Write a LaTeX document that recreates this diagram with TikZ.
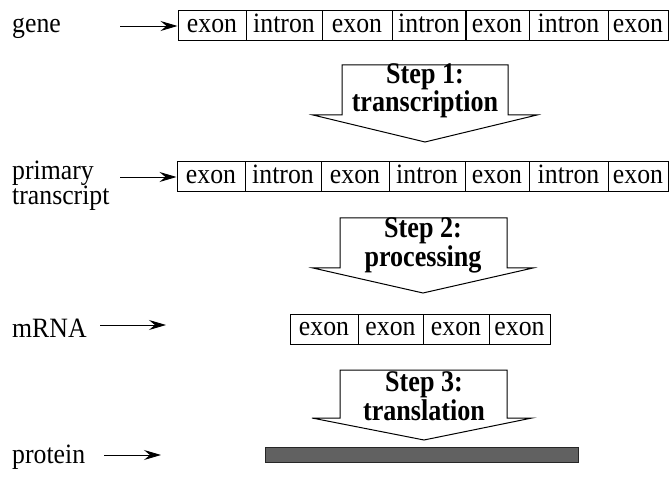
\documentclass[tikz,border=0pt]{standalone}
\usepackage{fontspec}
\setmainfont{Liberation Serif}[FakeStretch=0.92]
\newfontfamily\stepfont{Liberation Serif}[FakeStretch=0.87]
\usetikzlibrary{arrows.meta}
\tikzset{
  cell/.style={draw, line width=1pt, minimum height=30pt, inner sep=0pt, anchor=center,
    text height=19pt, text depth=6pt, font=\fontsize{28}{28}\selectfont},
  rowlabel/.style={anchor=base west, inner sep=0pt, align=left, font=\fontsize{28}{23}\selectfont},
  pointer/.style={line width=0.9pt, -{Stealth[length=17pt,width=10pt,inset=6pt]}},
  steparrow/.style={draw, line width=1pt, line join=miter},
  steptext/.style={anchor=base, inner sep=0pt, align=center, font=\stepfont\fontsize{30}{24}\selectfont\bfseries},
  proteinbar/.style={draw=black!85, line width=0.8pt, fill=black!62, minimum width=313pt, minimum height=15pt, inner sep=0pt}
}
\begin{document}
\begin{tikzpicture}[x=1pt,y=-1pt]
\useasboundingbox (0,0) rectangle (669,494);

% ---- row 1: gene
\node[rowlabel] (gene) at (12,33) {gene};
\node[cell, minimum width=68pt] (g1) at (212,26) {exon};
\node[cell, minimum width=76pt] (g2) at (284,26) {intron};
\node[cell, minimum width=70pt] (g3) at (357,26) {exon};
\node[cell, minimum width=74pt] (g4) at (429,26) {intron};
\node[cell, minimum width=64pt] (g5) at (497,26) {exon};
\node[cell, minimum width=79pt] (g6) at (568.5,26) {intron};
\node[cell, minimum width=60pt] (g7) at (638,26) {exon};
\coordinate (ga) at (120,26);
\draw[pointer] (ga) -- (g1.west);

% ---- step 1
\draw[steparrow] (342,115) -- (342,65) -- (508,65) -- (508,115) -- (537,115) -- (425,142) -- (313,115) -- cycle;
\node[steptext] (s1) at (425,112) {Step 1:\\transcription};

% ---- row 2: primary transcript
\node[rowlabel] (prim) at (12,205) {primary\\transcript};
\node[cell, minimum width=68pt] (p1) at (211,177) {exon};
\node[cell, minimum width=76pt] (p2) at (283,177) {intron};
\node[cell, minimum width=68pt] (p3) at (355,177) {exon};
\node[cell, minimum width=76pt] (p4) at (427,177) {intron};
\node[cell, minimum width=64pt] (p5) at (497,177) {exon};
\node[cell, minimum width=79pt] (p6) at (568.5,177) {intron};
\node[cell, minimum width=60pt] (p7) at (638,177) {exon};
\coordinate (pa) at (120,177);
\draw[pointer] (pa) -- (p1.west);

% ---- step 2
\draw[steparrow] (340,268) -- (340,218) -- (507,218) -- (507,268) -- (533,268) -- (423,293) -- (313,268) -- cycle;
\node[steptext] (s2) at (423,266) {Step 2:\\processing};

% ---- row 3: mRNA
\node[rowlabel] (mrna) at (12,337) {mRNA};
\node[cell, minimum width=68pt] (m1) at (324,329) {exon};
\node[cell, minimum width=65pt] (m2) at (390.5,329) {exon};
\node[cell, minimum width=66pt] (m3) at (456,329) {exon};
\node[cell, minimum width=61pt] (m4) at (519.5,329) {exon};
\coordinate (ma) at (100,325);
\coordinate (mb) at (166,325);
\draw[pointer] (ma) -- (mb);

% ---- step 3
\draw[steparrow] (340,418) -- (340,370) -- (507,370) -- (507,418) -- (532,418) -- (424,440) -- (312,418) -- cycle;
\node[steptext] (s3) at (424,420) {Step 3:\\translation};

% ---- row 4: protein
\node[rowlabel] (prot) at (12,463) {protein};
\node[proteinbar] (bar) at (421.5,454.5) {};
\coordinate (pra) at (104,455);
\coordinate (prb) at (161,455);
\draw[pointer] (pra) -- (prb);
\end{tikzpicture}
\end{document}
